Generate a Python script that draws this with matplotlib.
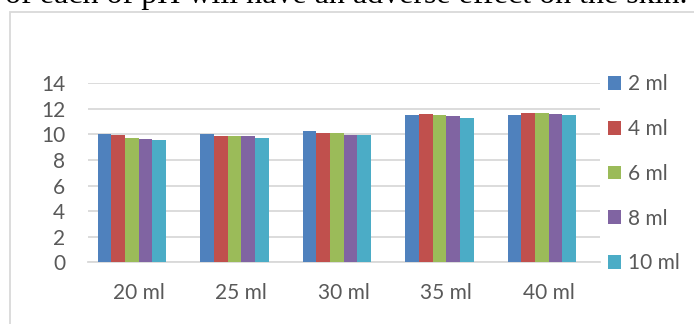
import matplotlib
matplotlib.use("Agg")
import matplotlib.pyplot as plt
from matplotlib.patches import Patch, Rectangle
import numpy as np

categories = ["20 ml", "25 ml", "30 ml", "35 ml", "40 ml"]
series_names = ["2 ml", "4 ml", "6 ml", "8 ml", "10 ml"]
values_2ml = [10.03, 10.03, 10.27, 11.52, 11.52]
values_4ml = [9.93, 9.90, 10.11, 11.60, 11.68]
values_6ml = [9.72, 9.90, 10.11, 11.52, 11.68]
values_8ml = [9.67, 9.85, 9.98, 11.44, 11.60]
values_10ml = [9.54, 9.72, 9.96, 11.31, 11.52]
y_ticks = [0, 2, 4, 6, 8, 10, 12, 14]

series = [values_2ml, values_4ml, values_6ml, values_8ml, values_10ml]
colors = ["#4F81BD", "#C0504D", "#9BBB59", "#8064A2", "#4BACC6"]
text_color = "#595959"
grid_color = "#D9D9D9"
font = "Lato"

W, H = 694, 324
fig = plt.figure(figsize=(W / 100, H / 100), dpi=100)
fig.patch.set_facecolor("white")

# surrounding sentence of the document, partly cut off at the top
fig.text(5 / W, 1 - 2.5 / H, "of each of pH will have an adverse effect on the skin.",
         family="Liberation Serif", fontsize=23, color="black",
         ha="left", va="baseline")

# chart frame
frame = Rectangle((10 / W, -0.2), 1.2, (1 - 11.5 / H) + 0.2,
                  transform=fig.transFigure, fill=False,
                  edgecolor=grid_color, linewidth=1.3)
fig.add_artist(frame)

left, right = 87.7 / W, 600 / W
bottom, top = 1 - 262.3 / H, 1 - 83.3 / H
ax = fig.add_axes([left, bottom, right - left, top - bottom])

x = np.arange(len(categories))
n = len(series)
group_width = 0.667
bar_w = group_width / n
bar_shift = -0.068  # clusters sit slightly left of their category labels
for i, (vals, name, c) in enumerate(zip(series, series_names, colors)):
    offs = (i - (n - 1) / 2) * bar_w + bar_shift
    ax.bar(x + offs, vals, width=bar_w, color=c, label=name,
           edgecolor="none", zorder=3)

ax.set_xlim(-0.5, len(categories) - 0.5)
ax.set_ylim(0, 14)
ax.set_yticks(y_ticks)
ax.set_yticklabels([str(v) for v in y_ticks])
ax.set_xticks(x)
ax.set_xticklabels(categories)
ax.yaxis.grid(True, color=grid_color, linewidth=1.3, zorder=0)
ax.set_axisbelow(True)
for s in ["top", "right", "left"]:
    ax.spines[s].set_visible(False)
ax.spines["bottom"].set_color(grid_color)
ax.spines["bottom"].set_linewidth(1.3)
ax.tick_params(axis="both", length=0, colors=text_color, labelsize=15)
ax.tick_params(axis="y", pad=16.3)
ax.tick_params(axis="x", pad=15)
for lab in ax.get_xticklabels() + ax.get_yticklabels():
    lab.set_family(font)
ax.set_facecolor("none")

handles = [Patch(facecolor=c, edgecolor="none") for c in colors]
leg = fig.legend(handles, series_names, loc="center left",
                 bbox_to_anchor=(608 / W, 1 - 173.85 / H),
                 frameon=False, borderpad=0, borderaxespad=0,
                 handlelength=0.64, handleheight=0.64, handletextpad=0.3,
                 labelspacing=1.19, prop={"family": font, "size": 15})
for t in leg.get_texts():
    t.set_color(text_color)

fig.savefig("out.png", dpi=100, facecolor="white")
